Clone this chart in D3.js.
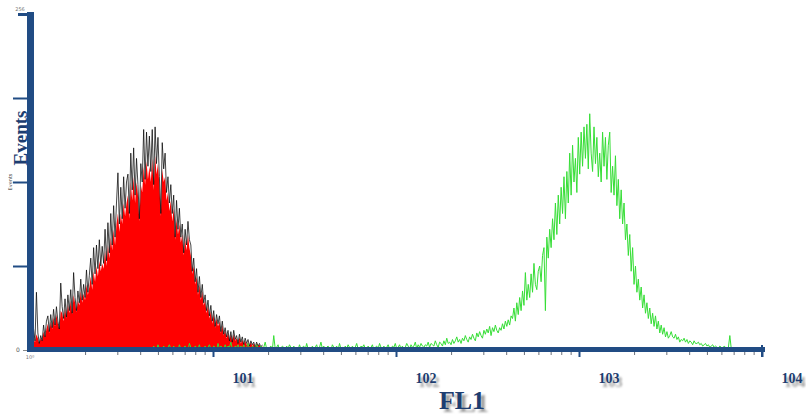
<!DOCTYPE html>
<html>
<head>
<meta charset="utf-8">
<script src="https://cdn.jsdelivr.net/npm/d3@7"></script>
<style>
  html, body { margin: 0; padding: 0; background: #ffffff; }
  svg { display: block; }
</style>
</head>
<body>
<svg id="chart" width="806" height="419"></svg>
<script>
// ---- FL1 histogram data (512 log channels over 4 decades, 128 channels per decade) ----
const channelsPerDecade = 128;
const decadeValues = [10, 100, 1000, 10000];
const decadeLabels = ["101", "102", "103", "104"];
const yTickValues = [0, 64, 128, 192, 256];

// Control sample outline, one value per channel starting at channel 2
const redOutlineStart = 2;
const redOutline = [
  16,7,44,13,5,11,7,19,10,22,
  26,14,27,17,31,19,33,22,16,51,
  33,24,39,25,42,30,46,28,59,40,
  30,45,36,54,38,50,40,61,44,57,
  70,50,78,58,80,62,84,64,79,66,
  92,68,97,74,104,80,110,86,112,135,
  96,124,100,132,108,128,134,104,150,122,
  154,118,146,126,100,142,128,168,130,166,
  140,163,136,168,126,170,142,162,132,104,
  158,138,150,120,132,112,126,104,118,86,
  114,92,108,86,96,74,92,80,98,84,
  80,60,70,52,62,44,56,40,50,36,
  42,30,38,26,34,22,30,18,27,20,
  26,14,22,12,17,10,15,7,14,6,
  15,8,11,5,12,6,10,4,9,5,
  8,3,7,4,6,2,6,3,5,2,
  4
];

// Control sample filled histogram, same channels
const redFillStart = 2;
const redFill = [
  10,6,12,9,5,9,7,14,10,16,
  20,13,22,16,25,18,27,20,16,30,
  28,22,32,24,35,28,38,27,42,36,
  29,38,34,45,36,43,38,50,42,48,
  56,46,60,52,64,56,68,60,66,62,
  76,64,80,70,86,76,92,80,96,104,
  90,104,96,112,102,112,118,100,128,114,
  132,112,128,118,98,126,120,140,126,144,
  130,140,128,146,122,148,134,142,126,102,
  138,128,132,114,120,106,114,98,108,84,
  100,88,96,82,88,72,84,76,88,78,
  72,58,64,50,56,42,50,38,45,34,
  38,28,34,24,30,20,27,17,24,18,
  22,13,19,11,15,9,13,7,12,6,
  12,7,9,5,10,5,8,4,7,4,
  6,3,6,3,5,2,5,3,4,2,
  3
];

// Stained sample outline, one value per channel starting at channel 84
const greenStart = 84;
const greenCounts = [
  2,0,3,1,0,4,1,2,0,3,
  1,0,2,4,1,0,3,1,2,0,
  4,1,0,2,3,1,0,5,2,1,
  0,3,2,1,4,0,2,1,3,0,
  2,4,1,0,3,2,0,5,1,3,
  2,0,4,1,3,2,6,1,0,3,
  2,4,1,
  3,1,4,0,2,5,1,0,3,2,
  1,4,2,0,3,1,2,6,1,0,
  2,3,0,11,1,2,4,0,1,3,
  2,0,3,1,4,2,0,3,1,2,
  0,4,1,2,3,0,5,1,2,0,
  3,1,2,4,0,2,6,1,3,0,
  2,3,1,0,4,2,1,3,0,5,
  1,2,0,3,1,4,2,0,3,1,
  2,5,1,0,3,2,4,1,0,3,
  1,2,4,0,2,3,1,5,2,0,
  3,1,2,4,1,0,3,2,5,1,
  2,4,1,3,0,2,5,3,1,4,
  2,3,6,1,4,2,5,3,2,4,
  3,6,2,5,4,3,7,4,2,6,
  5,3,7,4,9,5,6,4,8,5,
  7,10,6,8,5,9,7,11,8,6,
  10,8,12,9,7,13,10,14,11,9,
  15,12,16,13,18,11,17,14,19,15,
  13,17,15,20,16,22,18,23,19,26,
  24,32,22,36,27,40,30,45,34,59,
  38,50,40,58,44,66,50,46,60,64,
  52,72,78,30,86,70,92,78,100,84,
  112,88,118,96,124,104,132,100,136,112,
  150,118,156,128,146,120,162,134,166,140,
  170,146,172,138,180,150,136,170,142,162,
  132,150,128,166,140,162,130,156,166,120,
  140,118,148,110,130,100,122,96,112,84,
  96,72,88,60,78,50,64,44,54,38,
  48,32,42,28,36,24,32,20,28,18,
  26,16,22,13,19,12,17,10,14,9,
  11,14,10,9,12,8,10,6,8,7,
  9,6,8,5,7,6,4,7,5,5,
  6,4,5,3,4,5,3,4,2,3,
  4,2,3,2,1,3,2,1,3,2,
  1,2,11,1,0,2,1,0
];

// ---- scales ----
const svg = d3.select("#chart");
const x = d3.scaleLog().domain([1, 10000]).range([30, 762]);
const y = d3.scaleLinear().domain([0, 256]).range([350, 14]);

const AXIS_BLUE = "#214c84";
const TEXT_BLUE = "#1d3d70";

// channel index -> FL1 value at channel centre
const chanValue = idx => Math.pow(10, (idx + 0.5) / channelsPerDecade);
const toPoints = (arr, start) => arr.map((c, k) => ({ v: chanValue(start + k), c }));

const fillPts = toPoints(redFill, redFillStart);
const outlinePts = toPoints(redOutline, redOutlineStart);
const greenPts = toPoints(greenCounts, greenStart);

// ---- shadow filter for the titles ----
const defs = svg.append("defs");
defs.append("filter").attr("id", "soft")
  .attr("x", "-20%").attr("y", "-20%").attr("width", "140%").attr("height", "140%")
  .append("feGaussianBlur").attr("stdDeviation", 1.3);

// ---- histograms ----
const area = d3.area().x(d => x(d.v)).y0(y(0)).y1(d => y(d.c));
const line = d3.line().x(d => x(d.v)).y(d => y(d.c));

svg.append("path").datum(fillPts)
  .attr("d", area).attr("fill", "#ff0000");

svg.append("path").datum(outlinePts)
  .attr("d", line).attr("fill", "none")
  .attr("stroke", "#0a0a0a").attr("stroke-width", 0.9).attr("stroke-opacity", 0.85);

svg.append("path").datum(greenPts)
  .attr("d", line).attr("fill", "none")
  .attr("stroke", "#36de36").attr("stroke-width", 1);

// ---- x axis: log ticks ----
const minorVals = [];
for (let d = 1; d < 10000; d *= 10) for (let m = 2; m <= 9; m++) minorVals.push(d * m);

const xMinor = svg.append("g").attr("transform", "translate(0,352)")
  .call(d3.axisBottom(x).tickValues(minorVals).tickSize(3).tickFormat(""));
xMinor.select(".domain").remove();
xMinor.selectAll(".tick line").attr("stroke", "#6b6f78").attr("stroke-width", 1);

const xMajor = svg.append("g").attr("transform", "translate(0,352)")
  .call(d3.axisBottom(x).tickValues(decadeValues).tickSize(5).tickFormat(""));
xMajor.select(".domain").remove();
xMajor.selectAll(".tick line").attr("stroke", AXIS_BLUE).attr("stroke-width", 2);

// ---- y axis ticks ----
const yAx = svg.append("g").attr("transform", "translate(27,0)")
  .call(d3.axisLeft(y).tickValues(yTickValues).tickSize(14).tickFormat(""));
yAx.select(".domain").remove();
yAx.selectAll(".tick line")
  .attr("x2", d => d === 256 ? -9 : (d === 0 ? -4 : -14))
  .attr("stroke", d => d === 0 ? "#8a8a8a" : AXIS_BLUE)
  .attr("stroke-width", d => d === 0 ? 1 : (d === 256 ? 3 : 2));

// thick axis bars
svg.append("rect").attr("x", 27).attr("y", 347).attr("width", 738).attr("height", 5).attr("fill", AXIS_BLUE);
svg.append("rect").attr("x", 27).attr("y", 12).attr("width", 7).attr("height", 340).attr("fill", AXIS_BLUE);
svg.append("line").attr("x1", x(10000)).attr("x2", x(10000)).attr("y1", 345).attr("y2", 357)
  .attr("stroke", AXIS_BLUE).attr("stroke-width", 2);

// small instrument tick labels
svg.append("text").attr("x", 18).attr("y", 352).attr("font-family", "DejaVu Sans")
  .attr("font-size", 6).attr("fill", "#555").attr("text-anchor", "middle").text("0");
svg.append("text").attr("x", 20).attr("y", 11).attr("font-family", "DejaVu Sans")
  .attr("font-size", 5).attr("fill", "#777").attr("text-anchor", "middle").text("256");
svg.append("text").attr("x", x(1)).attr("y", 359).attr("font-family", "DejaVu Sans")
  .attr("font-size", 5).attr("fill", "#777").attr("text-anchor", "middle").text("10⁰");
svg.append("text").attr("x", 12).attr("y", 182).attr("font-family", "DejaVu Sans")
  .attr("font-size", 5).attr("fill", "#444").attr("text-anchor", "middle")
  .attr("transform", "rotate(-90,12,182)").text("Events");

// ---- titles with drop shadow ----
function shadowText(tx, ty, str, size, dx, dy) {
  const g = svg.append("g");
  g.append("text").attr("x", tx + dx).attr("y", ty + dy)
    .attr("font-family", "Liberation Serif, Times New Roman, serif")
    .attr("font-weight", "bold").attr("font-size", size)
    .attr("text-anchor", "middle").attr("fill", "#8d8d8d").attr("fill-opacity", 0.85)
    .attr("filter", "url(#soft)").text(str);
  g.append("text").attr("x", tx).attr("y", ty)
    .attr("font-family", "Liberation Serif, Times New Roman, serif")
    .attr("font-weight", "bold").attr("font-size", size)
    .attr("text-anchor", "middle").attr("fill", TEXT_BLUE).text(str);
}

decadeValues.forEach((v, i) => shadowText(x(v) + 30, 383, decadeLabels[i], 14, 3, 4));
shadowText(462, 409, "FL1", 26, 4, 3);

// vertical axis title
svg.append("text")
  .attr("transform", "translate(27,138) rotate(-90)")
  .attr("font-family", "Liberation Serif, Times New Roman, serif")
  .attr("font-weight", "bold").attr("font-size", 19)
  .attr("text-anchor", "middle").attr("fill", TEXT_BLUE).text("Events");
</script>
</body>
</html>
